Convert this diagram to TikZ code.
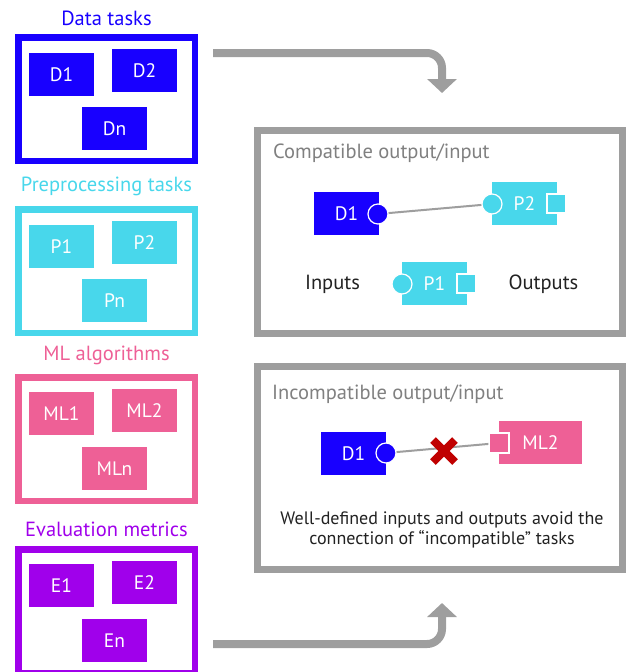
\documentclass[tikz,border=0pt]{standalone}
\usepackage{fontspec}
\setmainfont{PT Sans}
\usetikzlibrary{arrows.meta}
\definecolor{dblue}{RGB}{24,0,255}
\definecolor{pcyan}{RGB}{72,215,235}
\definecolor{mpink}{RGB}{238,96,150}
\definecolor{epurple}{RGB}{160,0,235}
\definecolor{fgray}{RGB}{158,158,158}
\definecolor{tgray}{RGB}{128,128,128}
\definecolor{tdark}{RGB}{34,34,34}
\definecolor{xred}{RGB}{192,0,0}
\begin{document}
\begin{tikzpicture}[x=1pt,y=-1pt,
  groupbox/.style={draw=#1, line width=6.5pt, fill=white, minimum width=176.5pt, minimum height=123.5pt, inner sep=0pt},
  grouplabel/.style={text=#1, font=\fontsize{20.5}{22}\selectfont, inner sep=0pt},
  taskbox/.style={fill=#1, text=white, minimum width=65pt, minimum height=43pt, inner sep=0pt, font=\fontsize{19.5}{21}\selectfont},
  panel/.style={draw=fgray, line width=7pt, fill=white, minimum width=365pt, minimum height=203pt, inner sep=0pt},
  paneltitle/.style={text=tgray, anchor=west, inner sep=0pt, font=\fontsize{20.5}{22}\selectfont},
  inport/.style={circle, fill=#1, draw=white, line width=1.2pt, minimum size=20pt, inner sep=0pt},
  outport/.style={rectangle, fill=#1, draw=white, line width=1.2pt, minimum size=19pt, inner sep=0pt},
  conn/.style={draw=fgray, line width=2pt},
  flow/.style={draw=fgray, line width=8pt, rounded corners=15pt, -{Triangle[width=29pt,length=14pt]}},
  plaintext/.style={text=tdark, inner sep=0pt, font=\fontsize{20.5}{22}\selectfont}
]
\useasboundingbox (0,0) rectangle (626,672);

% Data tasks
\node[grouplabel=dblue] (ldata) at (106.5,18) {Data tasks};
\node[groupbox=dblue] (gdata) at (106.5,99) {};
\node[taskbox=dblue] (d1) at (61.5,74.5) {D1};
\node[taskbox=dblue] (d2) at (144.5,70.5) {D2};
\node[taskbox=dblue] (dn) at (114.5,128.5) {Dn};

% Preprocessing tasks
\node[grouplabel=pcyan] (lpre) at (106.5,186) {Preprocessing tasks};
\node[groupbox=pcyan] (gpre) at (106.5,271) {};
\node[taskbox=pcyan] (p1) at (61.5,246.5) {P1};
\node[taskbox=pcyan] (p2) at (144.5,242.5) {P2};
\node[taskbox=pcyan] (pn) at (114.5,300.5) {Pn};

% ML algorithms
\node[grouplabel=mpink] (lml) at (106.5,355) {ML algorithms};
\node[groupbox=mpink] (gml) at (106.5,439) {};
\node[taskbox=mpink] (ml1) at (61.5,413.5) {ML1};
\node[taskbox=mpink] (ml2) at (144.5,410.5) {ML2};
\node[taskbox=mpink] (mln) at (114.5,468.5) {MLn};

% Evaluation metrics
\node[grouplabel=epurple] (lev) at (106.5,529) {Evaluation metrics};
\node[groupbox=epurple] (gev) at (106.5,611) {};
\node[taskbox=epurple] (e1) at (61.5,585.5) {E1};
\node[taskbox=epurple] (e2) at (144.5,582.5) {E2};
\node[taskbox=epurple] (en) at (114.5,640.5) {En};

% flow arrows
\coordinate (topstart) at (213,53);
\coordinate (topcorner) at (442,53);
\coordinate (topend) at (442,93);
\draw[flow] (topstart) -- (topcorner) -- (topend);
\coordinate (botstart) at (213,644);
\coordinate (botcorner) at (442,644);
\coordinate (botend) at (442,603);
\draw[flow] (botstart) -- (botcorner) -- (botend);

% Compatible panel
\node[panel] (pcomp) at (440,232) {};
\node[paneltitle] (tcomp) at (273,153) {Compatible output/input};
\node[taskbox=dblue] (cd1) at (346.5,213.5) {D1};
\node[taskbox=pcyan] (cp2) at (524.5,203.5) {P2};
\node[taskbox=pcyan] (cp1) at (434.5,283.5) {P1};
\node[inport=dblue] (cd1o) at (378,214) {};
\node[inport=pcyan] (cp2i) at (492,204) {};
\node[outport=pcyan] (cp2o) at (556.5,203.5) {};
\node[inport=pcyan] (cp1i) at (402,284) {};
\node[outport=pcyan] (cp1o) at (466.5,283.5) {};
\draw[conn] (cd1o) -- (cp2i);
\node[plaintext] (tin) at (332.5,284) {Inputs};
\node[plaintext] (tout) at (543.5,284) {Outputs};

% Incompatible panel
\node[panel] (pinc) at (440,468) {};
\node[paneltitle] (tinc) at (272,394) {Incompatible output/input};
\node[taskbox=dblue] (id1) at (353.5,453.5) {D1};
\node[taskbox=mpink, minimum width=83pt] (iml2) at (540.5,442.5) {ML2};
\node[inport=dblue] (id1o) at (386,453) {};
\node[outport=mpink, minimum size=20pt] (iml2i) at (499,443) {};
\draw[conn] (id1o) -- (iml2i);
\coordinate (xc) at (444,451);
\draw[xred, line width=8pt] ([shift={(-11,-11)}]xc) -- ([shift={(11,11)}]xc);
\draw[xred, line width=8pt] ([shift={(-11,11)}]xc) -- ([shift={(11,-11)}]xc);
\node[text=tdark, align=center, inner sep=0pt, font=\fontsize{18}{19.5}\selectfont] (note) at (442,530) {Well-defined inputs and outputs avoid the\\connection of “incompatible” tasks};
\end{tikzpicture}
\end{document}
